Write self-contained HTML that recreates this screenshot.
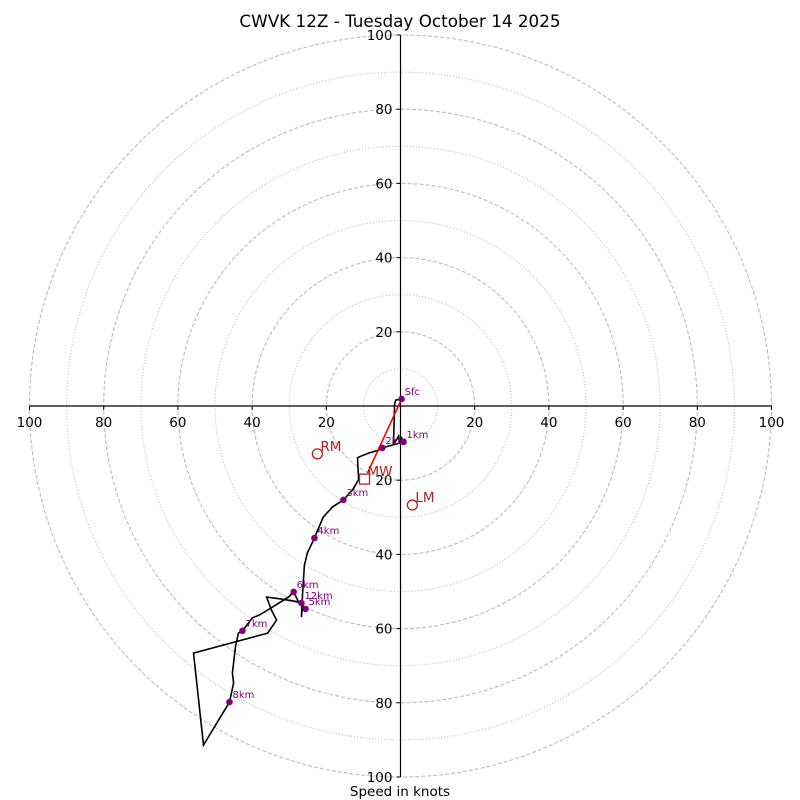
<!DOCTYPE html>
<html><head><meta charset="utf-8"><style>
html,body{margin:0;padding:0;background:#fff;}
svg{display:block;font-family:"DejaVu Sans","Liberation Sans",sans-serif;}
</style></head><body>
<svg id="chart" width="800" height="800" viewBox="0 0 800 800">
<rect width="800" height="800" fill="#fff"/>
<text x="400" y="27" font-size="16.8" text-anchor="middle" fill="#000">CWVK 12Z - Tuesday October 14 2025</text>
<g id="rings"></g>
<g id="axes"></g>
<g id="plot"></g>
<text x="400" y="796" font-size="13.5" text-anchor="middle" fill="#000">Speed in knots</text>
</svg>
<script>
const ringSpeeds = [10,20,30,40,50,60,70,80,90,100];
const tickLabels = [20,40,60,80,100];
const hodoU = [0.3,-1.3,-1.6,-1.9,-1.1,-0.5,-0.3,0.3,0.8,-4.9,-5.9,-8.6,-11.1,-11.6,-11.3,-12.9,-15.4,-18.3,-20.8,-23.2,-25.1,-25.9,-26.4,-26.7,-26.4,-25.6,-27.5,-28.8,-30.2,-32.3,-35.8,-38.0,-39.9,-42.6,-43.7,-44.5,-45.3,-45.0,-46.1,-53.1,-55.8,-35.8,-33.4,-34.8,-36.1,-32.3,-27.5,-26.7];
const hodoV = [1.9,1.6,0.5,-10.0,-9.2,-8.1,-9.7,-8.6,-9.7,-11.3,-11.9,-12.7,-13.7,-14.0,-19.9,-22.6,-25.3,-27.2,-29.9,-35.6,-39.6,-42.9,-50.4,-56.9,-53.6,-54.7,-52.8,-50.1,-51.5,-52.8,-55.0,-56.3,-57.1,-60.6,-61.2,-65.0,-72.0,-74.7,-79.8,-91.4,-66.6,-61.2,-57.7,-55.0,-51.5,-52.0,-52.8,-53.1];
const markerLabels = ["Sfc","1km","2km","3km","4km","5km","6km","7km","8km","12km"];
const markerU = [0.3,0.8,-4.9,-15.4,-23.2,-25.6,-28.8,-42.6,-46.1,-26.7];
const markerV = [1.9,-9.7,-11.3,-25.3,-35.6,-54.7,-50.1,-60.6,-79.8,-53.1];
const rmUV = [-22.4,-12.9];
const lmUV = [3.2,-26.7];
const mwUV = [-9.7,-19.7];

const NS="http://www.w3.org/2000/svg";
const CX=400.5, CY=406, K=3.71;
const sx=u=>CX+u*K, sy=v=>CY-v*K;
function mk(tag,attrs,parent){const e=document.createElementNS(NS,tag);for(const a in attrs)e.setAttribute(a,attrs[a]);parent.appendChild(e);return e;}
const rings=document.getElementById('rings'), axes=document.getElementById('axes'), plot=document.getElementById('plot');

ringSpeeds.forEach(s=>{
  const c=mk('circle',{cx:CX,cy:CY,r:s*K,fill:'none',stroke:'#bdbdbd','stroke-width':1.1,'stroke-dasharray':s%20===0?'4,2':'1,2'},rings);
  
  
});
let l=mk('line',{x1:sx(-100),y1:CY,x2:sx(100),y2:CY,stroke:'#000','stroke-width':1.2},axes);


l=mk('line',{x1:CX,y1:sy(100),x2:CX,y2:sy(-100),stroke:'#000','stroke-width':1.2},axes);


tickLabels.forEach(t=>{
  [-1,1].forEach(sg=>{
    const x=sx(sg*t);
    mk('line',{x1:x,y1:CY,x2:x,y2:CY+4,stroke:'#000'},axes);
    const tx=mk('text',{x:x,y:CY+21,'font-size':13.5,'text-anchor':'middle'},axes);
    tx.textContent=t;
    
    
    const y=sy(sg*t);
    mk('line',{x1:CX-4,y1:y,x2:CX,y2:y,stroke:'#000'},axes);
    const ty=mk('text',{x:CX-8,y:y+5,'font-size':13.5,'text-anchor':'end'},axes);
    ty.textContent=t;
    
    
  });
});
const pts=hodoU.map((u,i)=>sx(u).toFixed(1)+','+sy(hodoV[i]).toFixed(1)).join(' ');
const pl=mk('polyline',{points:pts,fill:'none',stroke:'#000','stroke-width':1.6,'stroke-linejoin':'miter'},plot);


const sm=mk('line',{x1:sx(hodoU[0]),y1:sy(hodoV[0]),x2:sx(mwUV[0])+3,y2:sy(mwUV[1])-6,stroke:'#f00','stroke-width':1.6},plot);


markerLabels.forEach((lab,i)=>{
  const x=sx(markerU[i]), y=sy(markerV[i]);
  const c=mk('circle',{cx:x,cy:y,r:3.3,fill:'#800080'},plot);
  
  
  const t=mk('text',{x:x+3,y:y-4,'font-size':10,fill:'#800080'},plot);
  t.textContent=lab;
  
  
});
const rm=mk('circle',{cx:sx(rmUV[0]),cy:sy(rmUV[1]),r:5,fill:'none',stroke:'#b22222','stroke-width':1.3},plot);


let t=mk('text',{x:sx(rmUV[0])+3,y:sy(rmUV[1])-3,'font-size':13.5,fill:'#b22222'},plot);t.textContent='RM';


const lm=mk('circle',{cx:sx(lmUV[0]),cy:sy(lmUV[1]),r:5,fill:'none',stroke:'#b22222','stroke-width':1.3},plot);


t=mk('text',{x:sx(lmUV[0])+3,y:sy(lmUV[1])-3,'font-size':13.5,fill:'#b22222'},plot);t.textContent='LM';


const mw=mk('rect',{x:sx(mwUV[0])-5,y:sy(mwUV[1])-5,width:10,height:10,fill:'none',stroke:'#b22222','stroke-width':1.3},plot);


t=mk('text',{x:sx(mwUV[0])+3,y:sy(mwUV[1])-3,'font-size':13.5,fill:'#b22222'},plot);t.textContent='MW';


</script>
</body></html>
